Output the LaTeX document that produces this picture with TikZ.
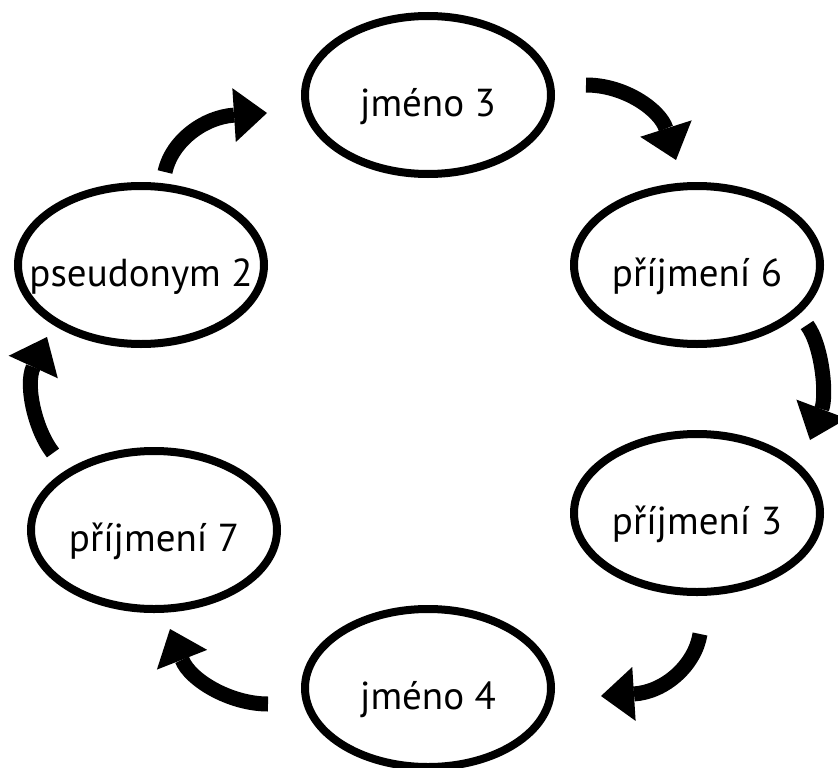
\documentclass[tikz,border=0pt]{standalone}
\usepackage{fontspec}
\setmainfont{PT Sans}
\usetikzlibrary{shapes.geometric,arrows.meta}
\begin{document}
\begin{tikzpicture}[x=1pt,y=-1pt,
  ell/.style={draw=black,line width=8pt,ellipse,minimum width=246pt,minimum height=158pt,inner sep=0pt},
  txt/.style={font=\fontsize{39}{41}\selectfont,inner sep=0pt,text height=43pt,text depth=0pt,text=black},
  cyc/.style={line width=15pt,-{Triangle[length=33pt,width=54pt,line width=0pt]}}]
\fill[white] (0,0) rectangle (838,768);
\useasboundingbox (0,0) rectangle (838,768);
% ellipses
\node[ell] (j3) at (428,95) {};
\node[ell] (p6) at (697,265) {};
\node[ell] (p3) at (697,513) {};
\node[ell] (j4) at (428,688) {};
\node[ell] (p7) at (154,530) {};
\node[ell] (ps2) at (141,265) {};
% labels
\node[txt] (j3t) at (j3) {jméno 3};
\node[txt] (p6t) at (p6) {příjmení 6};
\node[txt] (p3t) at (p3) {příjmení 3};
\node[txt] (j4t) at (j4) {jméno 4};
\node[txt] (p7t) at (p7) {příjmení 7};
\node[txt] (ps2t) at (ps2) {pseudonym 2};
% arrow ends
\coordinate (a1s) at (165,172); \coordinate (a1e) at (267,113);
\coordinate (a2s) at (586,85);  \coordinate (a2e) at (676,160);
\coordinate (a3s) at (807,325); \coordinate (a3e) at (810,440);
\coordinate (a4s) at (700,634); \coordinate (a4e) at (601,696);
\coordinate (a5s) at (268,704); \coordinate (a5e) at (170,629);
\coordinate (a6s) at (53,453);  \coordinate (a6e) at (47,337);
% arrows
\draw[cyc] (a1s) .. controls (172,140) and (205,117) .. (a1e);
\draw[cyc] (a2s) .. controls (625,85) and (660,110) .. (a2e);
\draw[cyc] (a3s) .. controls (822,345) and (827,395) .. (a3e);
\draw[cyc] (a4s) .. controls (695,665) and (665,692) .. (a4e);
\draw[cyc] (a5s) .. controls (230,704) and (190,680) .. (a5e);
\draw[cyc] (a6s) .. controls (35,430) and (25,385) .. (a6e);
\end{tikzpicture}
\end{document}
